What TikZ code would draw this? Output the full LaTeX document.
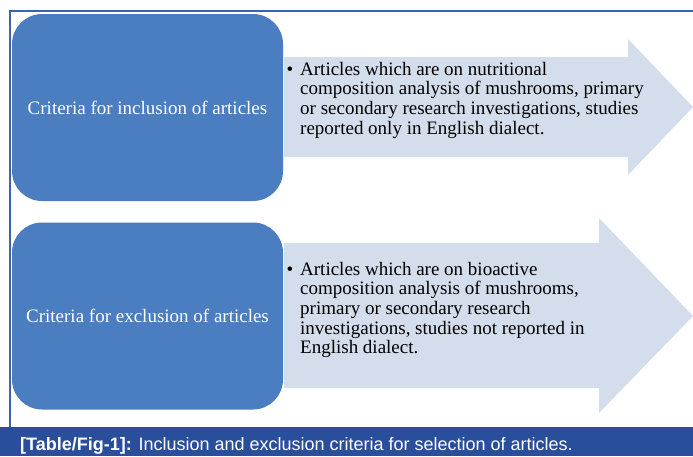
\documentclass[tikz,border=0pt]{standalone}
\usepackage{fontspec}
\setmainfont{Liberation Serif}
\newfontfamily\capfont{Liberation Sans}
\definecolor{boxblue}{HTML}{4A7EC0}
\definecolor{arrowfill}{HTML}{D3DDEB}
\definecolor{barblue}{HTML}{294E9B}
\definecolor{frameblue}{HTML}{3D64B0}
\tikzset{
  leftbox/.style={fill=boxblue, rounded corners=30pt, minimum width=271pt, minimum height=187pt, inner sep=0pt, text=white, font=\fontsize{19}{22}\selectfont},
  arrowshape/.style={fill=arrowfill},
  bodytext/.style={anchor=north west, inner sep=0pt, align=left, font=\fontsize{19}{19.6}\selectfont},
}
\begin{document}
\begin{tikzpicture}[x=1pt,y=-1pt]
\useasboundingbox (0,0) rectangle (693,456);
\fill[white] (0,0) rectangle (693,456);
% frame
\draw[frameblue, line width=1.2pt] (10,428) -- (10,11) -- (693,11);
% arrows
\fill[arrowshape] (284,57) -- (628,57) -- (628,39) -- (693,107) -- (628,175) -- (628,157) -- (284,157) -- cycle;
\fill[arrowshape] (284,243) -- (599,243) -- (599,218) -- (693,316) -- (599,413) -- (599,388) -- (284,388) -- cycle;
% left boxes
\node[leftbox] (inc) at (147.5,107.5) {Criteria for inclusion of articles};
\node[leftbox] (exc) at (147.5,316) {Criteria for exclusion of articles};
% arrow texts
\node[bodytext] (t1) at (300,62) {\llap{•\hspace{7pt}}Articles which are on nutritional\\composition analysis of mushrooms, primary\\or secondary research investigations, studies\\reported only in English dialect.};
\node[bodytext] (t2) at (300,262) {\llap{•\hspace{7pt}}Articles which are on bioactive\\composition analysis of mushrooms,\\primary or secondary research\\investigations, studies not reported in\\English dialect.};
% caption
\fill[barblue] (0,427) rectangle (693,456);
\node[anchor=base west, inner sep=0pt, text=white, font=\capfont\fontsize{18}{20}\selectfont] (cap) at (20,450) {\textbf{[Table/Fig-1]:} Inclusion and exclusion criteria for selection of articles.};
\end{tikzpicture}
\end{document}
